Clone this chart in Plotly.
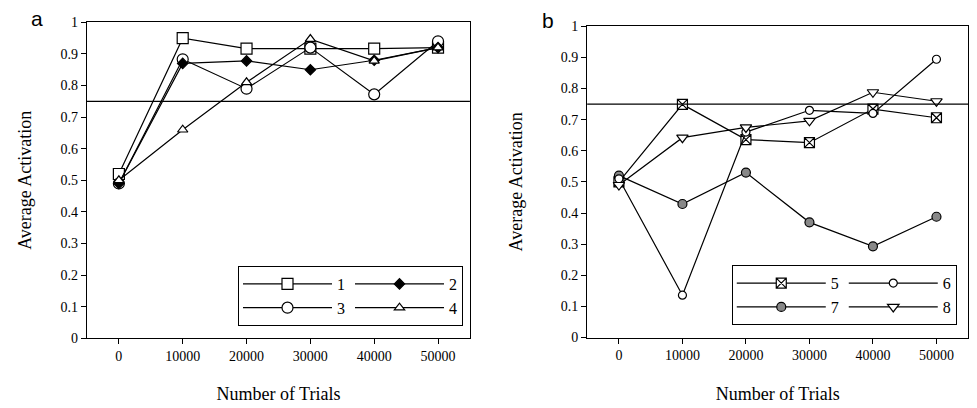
import plotly.graph_objects as go

trials = [0, 10000, 20000, 30000, 40000, 50000]

# Panel a
s1 = [0.52, 0.95, 0.917, 0.917, 0.917, 0.92]
s2 = [0.49, 0.87, 0.878, 0.85, 0.88, 0.92]
s3 = [0.49, 0.883, 0.79, 0.92, 0.772, 0.94]
s4 = [0.50, 0.66, 0.81, 0.947, 0.878, 0.92]

# Panel b
s5 = [0.50, 0.749, 0.636, 0.626, 0.734, 0.706]
s6 = [0.51, 0.136, 0.66, 0.73, 0.72, 0.894]
s7 = [0.52, 0.429, 0.53, 0.37, 0.293, 0.388]
s8 = [0.49, 0.642, 0.675, 0.696, 0.788, 0.759]

threshold = 0.75
yticks = [0, 0.1, 0.2, 0.3, 0.4, 0.5, 0.6, 0.7, 0.8, 0.9, 1]
ytick_text = ["0", "0.1", "0.2", "0.3", "0.4", "0.5", "0.6", "0.7", "0.8", "0.9", "1"]
xtick_text = ["0", "10000", "20000", "30000", "40000", "50000"]

SERIF = "Liberation Serif, Times New Roman, serif"
fig = go.Figure()

def add(x, y, name, symbol, size, fill, xa, ya, leg, group, rank):
    fig.add_trace(go.Scatter(
        x=x, y=y, name=name, mode="lines+markers",
        line=dict(color="black", width=1.2),
        marker=dict(symbol=symbol, size=size, color=fill,
                    line=dict(color="black", width=1.2)),
        xaxis=xa, yaxis=ya, legend=leg, legendgroup=group, legendrank=rank,
    ))

add(trials, s1, "1", "square", 11, "white", "x", "y", "legend", "a1", 1)
add(trials, s3, "3", "circle", 11, "white", "x", "y", "legend", "a1", 2)
add(trials, s2, "2", "diamond", 8, "black", "x", "y", "legend", "a2", 3)
add(trials, s4, "4", "triangle-up", 9, "white", "x", "y", "legend", "a2", 4)

add(trials, s5, "5", "square-x", 10, "white", "x2", "y2", "legend2", "b1", 1)
add(trials, s7, "7", "circle", 9, "#888888", "x2", "y2", "legend2", "b1", 2)
add(trials, s6, "6", "circle", 8, "white", "x2", "y2", "legend2", "b2", 3)
add(trials, s8, "8", "triangle-down", 10, "white", "x2", "y2", "legend2", "b2", 4)

for xr in ["x", "x2"]:
    yr = "y" if xr == "x" else "y2"
    fig.add_shape(type="line", xref=xr + " domain", yref=yr, x0=0, x1=1,
                  y0=threshold, y1=threshold, line=dict(color="black", width=1.2))

axis_common = dict(showline=True, linecolor="black", linewidth=1.2, mirror=True,
                   ticks="outside", ticklen=5, tickcolor="black", showgrid=False,
                   zeroline=False, tickfont=dict(family=SERIF, size=14, color="black"))
title_font = dict(family=SERIF, size=18, color="black")
legend_common = dict(xanchor="left", yanchor="top", orientation="h",
                     traceorder="grouped", tracegroupgap=2, bordercolor="black",
                     borderwidth=1, bgcolor="white",
                     font=dict(family=SERIF, size=16, color="black"), itemwidth=89)

fig.update_layout(
    width=977, height=408, margin=dict(l=0, r=0, t=0, b=0),
    paper_bgcolor="white", plot_bgcolor="white",
    xaxis=dict(domain=[0.089, 0.481], range=[-5000, 55000], tickvals=trials,
               ticktext=xtick_text, anchor="y",
               title=dict(text="Number of Trials", font=title_font, standoff=24),
               **axis_common),
    yaxis=dict(domain=[0.157, 0.961], range=[0, 1], tickvals=yticks, ticktext=ytick_text,
               anchor="x",
               title=dict(text="Average Activation", font=title_font, standoff=24),
               **axis_common),
    xaxis2=dict(domain=[0.601, 0.991], range=[-5000, 55000], tickvals=trials,
                ticktext=xtick_text, anchor="y2",
                title=dict(text="Number of Trials", font=title_font, standoff=24),
                **axis_common),
    yaxis2=dict(domain=[0.159, 0.951], range=[0, 1], tickvals=yticks, ticktext=ytick_text,
                anchor="x2",
                title=dict(text="Average Activation", font=title_font, standoff=33),
                **axis_common),
    legend=dict(x=0.2436, y=0.341, **legend_common),
    legend2=dict(x=0.749, y=0.343, **legend_common),
    annotations=[
        dict(text="a", x=0.038, y=0.97, xref="paper", yref="paper", showarrow=False,
             xanchor="center", yanchor="middle", font=dict(family="Liberation Sans, Arial", size=21, color="black")),
        dict(text="b", x=0.561, y=0.965, xref="paper", yref="paper", showarrow=False,
             xanchor="center", yanchor="middle", font=dict(family="Liberation Sans, Arial", size=21, color="black")),
    ],
    showlegend=True,
)

fig.write_html("out.html")
